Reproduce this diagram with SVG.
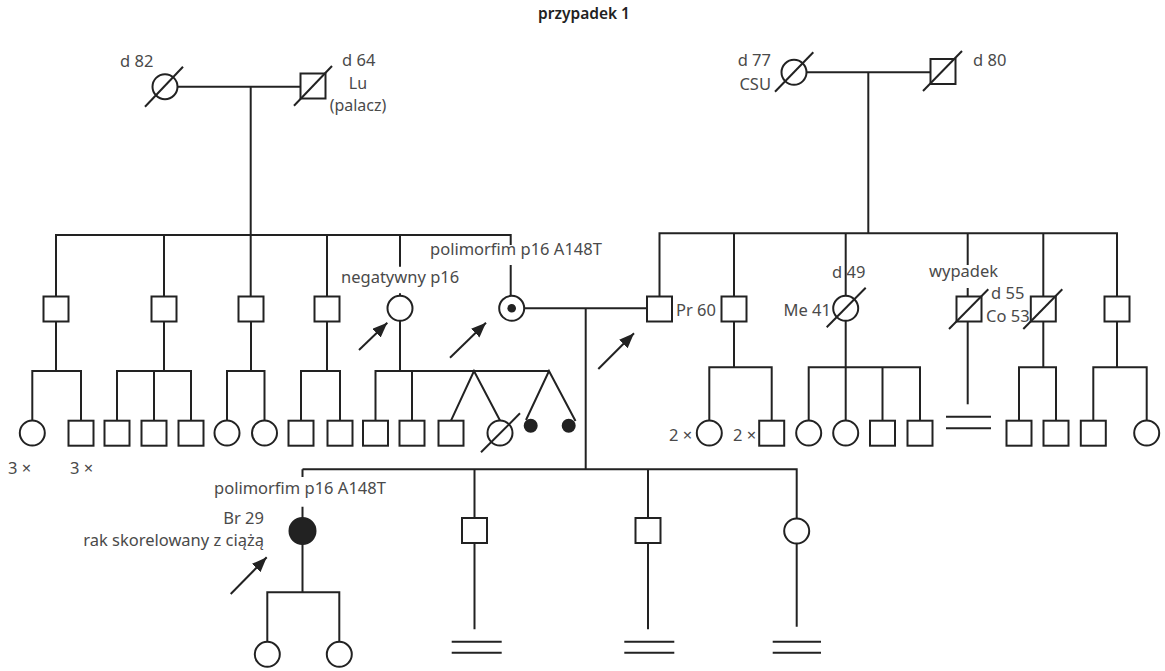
<svg xmlns="http://www.w3.org/2000/svg" width="1165" height="671" viewBox="0 0 1165 671">
<style>
.l{stroke:#222;stroke-width:2;fill:none}
.s{stroke:#222;stroke-width:2;fill:#fff}
.f{fill:#222;stroke:#222;stroke-width:2}
.t{font-family:"Noto Sans","Open Sans",sans-serif;font-size:16.5px;fill:#4a4a4a}
.sm{font-size:16px}
.e{text-anchor:end}
.m{text-anchor:middle}
.ttl{font-family:"Noto Sans","Open Sans",sans-serif;font-size:15.5px;font-weight:600;fill:#222;text-anchor:middle}
</style>
<defs>
<marker id="ah" markerUnits="userSpaceOnUse" markerWidth="16" markerHeight="14" refX="15" refY="6" orient="auto">
<path d="M0,0 L15,6 L0,12 Z" fill="#222"/>
</marker>
<rect id="sq" x="-12.5" y="-12.5" width="25" height="25" class="s"/>
<circle id="ci" r="12.5" class="s"/>
</defs>
<rect width="1165" height="671" fill="#fff"/>
<text class="ttl" x="584" y="19">przypadek 1</text>

<g id="connectors" class="l">
<!-- left family -->
<path d="M177.5,86.7 H300.5"/>
<path d="M250.7,86.7 V296.5"/>
<path d="M56,296.5 V235 H510.7 V245"/>
<path d="M510.7,265 V295.8"/>
<path d="M164,235 V296.5 M327,235 V296.5"/>
<path d="M400,235 V266.7 M400,293.3 V295.8"/>
<!-- right family -->
<path d="M806.5,72.3 H930.5"/>
<path d="M868.3,72.3 V233.3"/>
<path d="M659.5,296.5 V233.3 H1117 V296.5"/>
<path d="M734,233.3 V296.5 M845.7,233.3 V295.8 M1043.3,233.3 V296.5"/>
<path d="M967.7,233.3 V265 M967.7,288 V296.5"/>
<!-- couple -->
<path d="M524.2,308.3 H647"/>
<path d="M585.7,308.3 V469.3"/>
<path d="M302.5,469.3 H796.7 V518.5"/>
<path d="M302.5,469.3 V477 M302.5,506.7 V518"/>
<path d="M474.5,469.3 V518.3 M648,469.3 V518.3"/>
<path d="M474.5,542.8 V629.3 M648,542.8 V629.3 M796.7,543.5 V626.7"/>
<!-- gen III left -->
<path d="M56,321.5 V371 M32.3,420.5 V371 H81 V420.7"/>
<path d="M164,321.5 V371 M117,420.7 V371 H191 V420.7 M154,371 V420.7"/>
<path d="M251,321.5 V371 M227,420.5 V371 H264.5 V420.5"/>
<path d="M327,321.5 V371 M301,420.7 V371 H340 V420.7"/>
<path d="M400,320.8 V371 M375.5,420.7 V371 H549 M412,371 V420.7"/>
<path d="M451,420.7 L474,371 L500,420.5"/>
<path d="M526,420 L549,371 L575.5,421"/>
<!-- gen III right -->
<path d="M734,321.5 V367.3 M709.3,420.5 V367.3 H771.7 V420.7"/>
<path d="M845.7,320.8 V420.5 M808.7,420.5 V367.3 H920 V420.7 M882.5,367.3 V420.7"/>
<path d="M967.7,321.5 V404.3"/>
<path d="M946,416.7 H991 M946,428.3 H991"/>
<path d="M1043.3,321.5 V367.3 M1019,420.7 V367.3 H1056 V420.7"/>
<path d="M1117,321.5 V367.3 M1093.3,420.7 V367.3 H1146.7 V420.5"/>
<!-- gen IV -->
<path d="M302.5,544 V592.3 M267.3,641.8 V592.3 H339.3 V641.8"/>
<path d="M451.7,641.7 H501.7 M451.7,652.7 H501.7"/>
<path d="M624.3,641.7 H674.3 M624.3,652.7 H674.3"/>
<path d="M772.7,641.7 H821 M772.7,652.7 H821"/>
<!-- arrows -->
<path d="M359,350 L387.3,322.7" marker-end="url(#ah)"/>
<path d="M450,357.7 L486,322.7" marker-end="url(#ah)"/>
<path d="M598.3,369 L634,333.3" marker-end="url(#ah)"/>
<path d="M230.7,594 L266.7,557.3" marker-end="url(#ah)"/>
</g>

<!-- Generation I -->
<g id="I1"><use href="#ci" x="165" y="86.7"/><path class="l" d="M145,106.7 L183,66.7"/><text class="t" x="120" y="66.5">d 82</text></g>
<g id="I2"><use href="#sq" x="313" y="86"/><path class="l" d="M294,105.7 L332,66"/><text class="t" x="342" y="66">d 64</text><text class="t sm m" x="358" y="88.5">Lu</text><text class="t sm m" x="358" y="111">(palacz)</text></g>
<g id="I3"><use href="#ci" x="794" y="72.3"/><path class="l" d="M775,91.7 L813.3,52.3"/><text class="t e" x="771" y="66">d 77</text><text class="t e" x="771" y="89.5">CSU</text></g>
<g id="I4"><use href="#sq" x="943" y="71.5"/><path class="l" d="M923,91 L962,51"/><text class="t" x="973" y="66">d 80</text></g>

<!-- Generation II left -->
<g id="II1"><use href="#sq" x="56" y="309"/></g>
<g id="II2"><use href="#sq" x="164" y="309"/></g>
<g id="II3"><use href="#sq" x="251" y="309"/></g>
<g id="II4"><use href="#sq" x="327" y="309"/></g>
<g id="II5"><use href="#ci" x="400" y="308.3"/><text class="t" x="341" y="283">negatywny p16</text></g>
<g id="II6"><use href="#ci" x="511.7" y="308.3"/><circle cx="511.7" cy="308.3" r="4.3" fill="#222"/><text class="t" x="430" y="255">polimorfim p16 A148T</text></g>

<!-- Generation II right -->
<g id="II7"><use href="#sq" x="659.5" y="309"/><text class="t" x="676" y="315.5">Pr 60</text></g>
<g id="II8"><use href="#sq" x="734" y="309"/></g>
<g id="II9"><use href="#ci" x="845.7" y="308.3"/><path class="l" d="M826.7,327.3 L865.7,287.7"/><text class="t" x="832" y="278">d 49</text><text class="t e" x="831" y="315.5">Me 41</text></g>
<g id="II10"><use href="#sq" x="969" y="309"/><path class="l" d="M949,329 L988.3,289.3"/><text class="t" x="929" y="276.5">wypadek</text><text class="t" x="991" y="299">d 55</text><text class="t" x="986" y="321.5">Co 53</text></g>
<g id="II11"><use href="#sq" x="1043.3" y="309"/><path class="l" d="M1023.3,329 L1062.3,289.3"/></g>
<g id="II12"><use href="#sq" x="1117" y="309"/></g>

<!-- Generation III left -->
<g id="III1"><use href="#ci" x="32.3" y="433"/><text class="t" x="8" y="474">3 ×</text></g>
<g id="III2"><use href="#sq" x="81" y="433.2"/><text class="t" x="70" y="474">3 ×</text></g>
<g id="III3"><use href="#sq" x="117" y="433.2"/></g>
<g id="III4"><use href="#sq" x="154" y="433.2"/></g>
<g id="III5"><use href="#sq" x="191" y="433.2"/></g>
<g id="III6"><use href="#ci" x="227" y="433"/></g>
<g id="III7"><use href="#ci" x="264.5" y="433"/></g>
<g id="III8"><use href="#sq" x="301" y="433.2"/></g>
<g id="III9"><use href="#sq" x="340" y="433.2"/></g>
<g id="III10"><use href="#sq" x="375.5" y="433.2"/></g>
<g id="III11"><use href="#sq" x="412" y="433.2"/></g>
<g id="III12"><use href="#sq" x="451" y="433.2"/></g>
<g id="III13"><use href="#ci" x="500" y="433"/><path class="l" d="M481,452.3 L520,413.3"/></g>
<g id="III14"><circle cx="530.7" cy="425.7" r="6" class="f"/></g>
<g id="III15"><circle cx="568.7" cy="425.7" r="6" class="f"/></g>

<!-- Generation III right -->
<g id="III16"><use href="#ci" x="709.3" y="433"/><text class="t" x="669" y="440.5">2 ×</text></g>
<g id="III17"><use href="#sq" x="771.7" y="433.2"/><text class="t" x="733" y="440.5">2 ×</text></g>
<g id="III18"><use href="#ci" x="808.7" y="433"/></g>
<g id="III19"><use href="#ci" x="845.7" y="433"/></g>
<g id="III20"><use href="#sq" x="882.5" y="433.2"/></g>
<g id="III21"><use href="#sq" x="920" y="433.2"/></g>
<g id="III22"><use href="#sq" x="1019" y="433.2"/></g>
<g id="III23"><use href="#sq" x="1056" y="433.2"/></g>
<g id="III24"><use href="#sq" x="1093.3" y="433.2"/></g>
<g id="III25"><use href="#ci" x="1146.7" y="433"/></g>

<!-- Generation III (children of couple) -->
<g id="P1"><circle cx="302.5" cy="531" r="13" class="f"/><text class="t" x="214" y="493.5">polimorfim p16 A148T</text><text class="t e" x="264" y="523.5">Br 29</text><text class="t e" x="264" y="545.5">rak skorelowany z ciążą</text></g>
<g id="P2"><use href="#sq" x="474.5" y="530.5"/></g>
<g id="P3"><use href="#sq" x="648" y="530.5"/></g>
<g id="P4"><use href="#ci" x="796.7" y="531"/></g>

<!-- Generation IV -->
<g id="IV1"><use href="#ci" x="267.3" y="654.3"/></g>
<g id="IV2"><use href="#ci" x="339.3" y="654.3"/></g>
</svg>
